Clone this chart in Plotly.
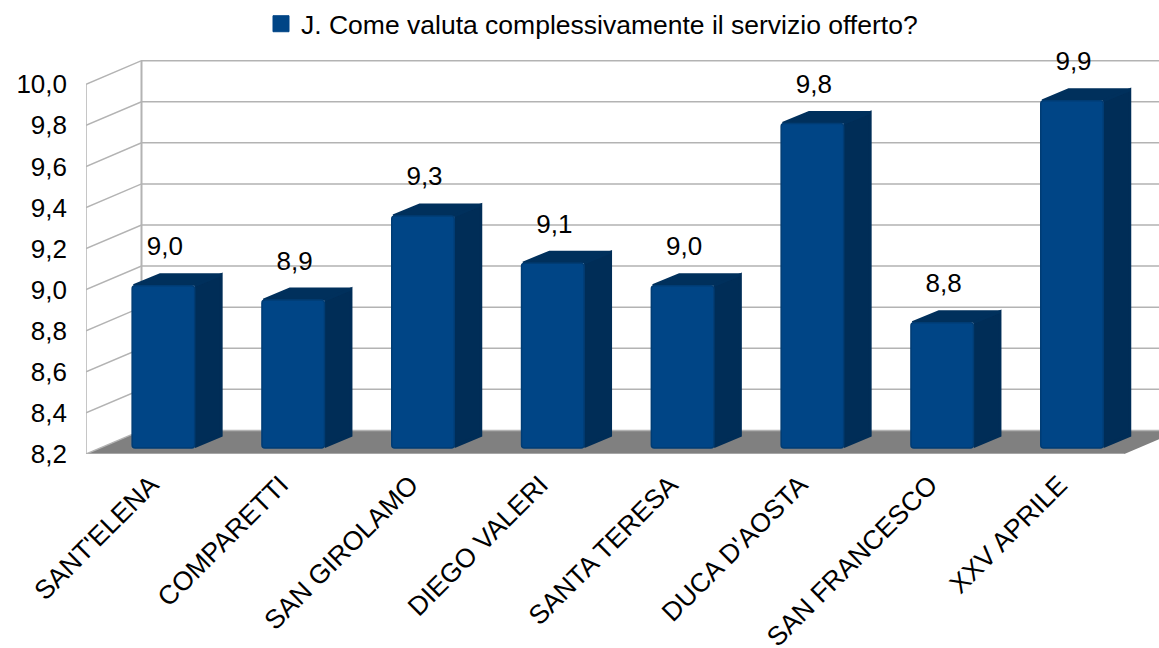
import plotly.graph_objects as go

categories = ["SANT'ELENA", "COMPARETTI", "SAN GIROLAMO", "DIEGO VALERI",
              "SANTA TERESA", "DUCA D'AOSTA", "SAN FRANCESCO", "XXV APRILE"]
values = [8.99, 8.92, 9.33, 9.10, 8.99, 9.78, 8.81, 9.89]
y_ticks = [8.2, 8.4, 8.6, 8.8, 9.0, 9.2, 9.4, 9.6, 9.8, 10.0]
series_name = "J. Come valuta complessivamente il servizio offerto?"

FONT = "Liberation Sans"
W, H = 1159, 648
L, T, B = 86, 50, 194
PX_X, PX_Y = 129.8, 205.4
DX, DY = 55.5 / PX_X, 23.6 / PX_Y          # depth of the whole box
BAR_DX, BAR_DY = 28.0 / PX_X, 12.5 / PX_Y  # depth of a bar
INS_X, INS_Y = 12.5 / PX_X, 6.0 / PX_Y     # bars' inset from the front plane
BAR_W = 62.5 / PX_X
PAD_X, PAD_Y = 1.5 / PX_X, 1.5 / PX_Y      # outline allowance for rounded outer corners
Y0 = y_ticks[0]
X0, X1 = -0.5, len(categories) - 0.5
GRID, FRONT, SIDE, TOPC, FLOOR = "#b3b3b3", "#004586", "#002d57", "#00305c", "#808080"

fig = go.Figure()

def poly(xs, ys, color, z, line=0):
    fig.add_trace(go.Scatter(x=xs, y=ys, mode="lines", fill="toself", fillcolor=color,
                             line=dict(color=color, width=line), hoverinfo="skip",
                             showlegend=False, zorder=z))

def seg(xs, ys, z=0, width=1.5):
    fig.add_trace(go.Scatter(x=xs, y=ys, mode="lines", line=dict(color=GRID, width=width),
                             hoverinfo="skip", showlegend=False, zorder=z))

# floor
poly([X0, X1, X1 + DX, X0 + DX], [Y0, Y0, Y0 + DY, Y0 + DY], FLOOR, 1)
# walls and grid
for t in y_ticks:
    seg([X0, X0 + DX, X1 + DX], [t, t + DY, t + DY], 2)
seg([X0, X0], [Y0, y_ticks[-1]], 2)
seg([X0 + DX, X0 + DX], [Y0 + DY, y_ticks[-1] + DY], 2, 2)
seg([X0, X1], [Y0, Y0], 2)

# side and top faces of the bars
xc = [i + INS_X for i in range(len(values))]
for c, v in zip(xc, values):
    x0, x1 = c - BAR_W / 2, c + BAR_W / 2
    b, t = Y0 + INS_Y, v + INS_Y
    xr = x1 + BAR_DX - PAD_X
    ytop = t + BAR_DY - PAD_Y
    poly([x1, xr, xr, x1], [b + PAD_Y, b + BAR_DY, ytop, t], SIDE, 3, 3)
    poly([x0 + PAD_X, x0 + BAR_DX, xr, x1], [t, ytop, ytop, t], TOPC, 3, 3)

# front faces
fig.add_trace(go.Bar(x=xc, y=[v - Y0 for v in values], base=[Y0 + INS_Y] * len(values),
                     width=BAR_W, zorder=4, showlegend=False, hoverinfo="skip",
                     marker=dict(color=FRONT, cornerradius=3,
                                 line=dict(color="#003c74", width=1.5))))

# data labels
fig.add_trace(go.Scatter(x=[c + 1.5 / PX_X for c in xc], y=[v + INS_Y + 37 / PX_Y for v in values],
                         mode="text", text=[f"{v:.1f}".replace(".", ",") for v in values],
                         textposition="middle center", cliponaxis=False,
                         textfont=dict(family=FONT, size=26, color="#000000"),
                         hoverinfo="skip", showlegend=False, zorder=5))

# legend entry
fig.add_trace(go.Scatter(x=[None], y=[None], mode="markers", name=series_name,
                         marker=dict(symbol="square", size=16, color=FRONT,
                                     line=dict(color=FRONT, width=1))))

fig.update_layout(
    width=W, height=H, autosize=False, paper_bgcolor="white", plot_bgcolor="white",
    margin=dict(l=L, r=0, t=T, b=B, pad=0, autoexpand=False), separators=",.", barmode="overlay",
    font=dict(family=FONT, size=26, color="#000000"),
    legend=dict(x=(261 - L) / (W - L), xanchor="left", y=1 + 50 / (H - T - B), yanchor="top",
                orientation="h", font=dict(family=FONT, size=26.5), bgcolor="rgba(0,0,0,0)",
                itemclick=False, itemdoubleclick=False),
    xaxis=dict(range=[X0, X0 + (W - L) / PX_X], tickmode="array", automargin=False,
               tickvals=list(range(len(categories))), ticktext=categories, tickangle=-45,
               showgrid=False, zeroline=False, showline=False, ticks="", ticklabelstandoff=9,
               tickfont=dict(family=FONT, size=26.5, color="#000000")),
    yaxis=dict(range=[Y0, Y0 + (H - T - B) / PX_Y], tickmode="array", tickvals=y_ticks,
               tickformat=".1f", showgrid=False, zeroline=False, showline=False, ticks="",
               automargin=False, ticklabelstandoff=18,
               tickfont=dict(family=FONT, size=26, color="#000000")),
)

fig.write_html("out.html", config={"displayModeBar": False},
               post_script="document.body.style.margin='0';document.body.style.overflow='hidden';")
